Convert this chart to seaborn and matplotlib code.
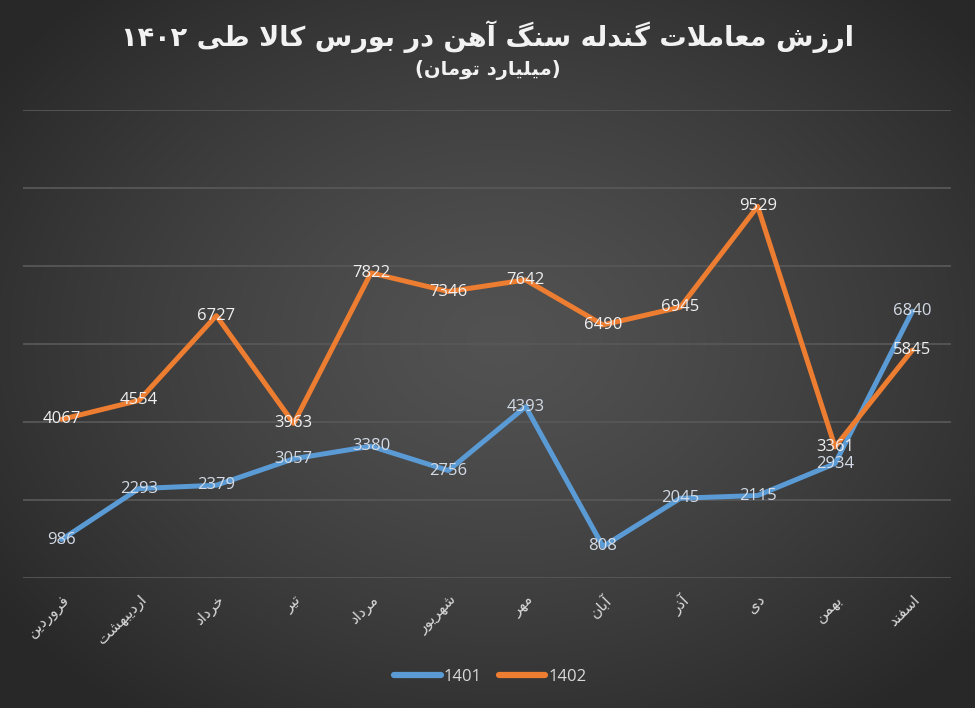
import re
import numpy as np
import pandas as pd
import matplotlib
matplotlib.use('Agg')
import matplotlib.pyplot as plt
import seaborn as sns

MONTHS = ['فروردین', 'اردیبهشت', 'خرداد', 'تیر', 'مرداد', 'شهریور',
          'مهر', 'آبان', 'آذر', 'دی', 'بهمن', 'اسفند']
VALUES_1401 = [986, 2293, 2379, 3057, 3380, 2756, 4393, 808, 2045, 2115, 2934, 6840]
VALUES_1402 = [4067, 4554, 6727, 3963, 7822, 7346, 7642, 6490, 6945, 9529, 3361, 5845]
TITLE = 'ارزش معاملات گندله سنگ آهن در بورس کالا طی ۱۴۰۲'
SUBTITLE = '(میلیارد تومان)'

COLORS = {'1401': '#5B9BD5', '1402': '#ED7D31'}
LABEL_COLORS = {'1401': '#d3dbe6', '1402': '#f0f0f0'}

# matplotlib does no Arabic shaping, so pick presentation forms by hand
# (isolated, final, initial, medial)
FORMS = {
    '\u0622': (0xFE81, 0xFE82, None, None),
    '\u0627': (0xFE8D, 0xFE8E, None, None),
    '\u0628': (0xFE8F, 0xFE90, 0xFE91, 0xFE92),
    '\u067E': (0xFB56, 0xFB57, 0xFB58, 0xFB59),
    '\u062A': (0xFE95, 0xFE96, 0xFE97, 0xFE98),
    '\u062C': (0xFE9D, 0xFE9E, 0xFE9F, 0xFEA0),
    '\u062D': (0xFEA1, 0xFEA2, 0xFEA3, 0xFEA4),
    '\u062E': (0xFEA5, 0xFEA6, 0xFEA7, 0xFEA8),
    '\u062F': (0xFEA9, 0xFEAA, None, None),
    '\u0630': (0xFEAB, 0xFEAC, None, None),
    '\u0631': (0xFEAD, 0xFEAE, None, None),
    '\u0632': (0xFEAF, 0xFEB0, None, None),
    '\u0633': (0xFEB1, 0xFEB2, 0xFEB3, 0xFEB4),
    '\u0634': (0xFEB5, 0xFEB6, 0xFEB7, 0xFEB8),
    '\u0637': (0xFEC1, 0xFEC2, 0xFEC3, 0xFEC4),
    '\u0639': (0xFEC9, 0xFECA, 0xFECB, 0xFECC),
    '\u0641': (0xFED1, 0xFED2, 0xFED3, 0xFED4),
    '\u0642': (0xFED5, 0xFED6, 0xFED7, 0xFED8),
    '\u06A9': (0xFB8E, 0xFB8F, 0xFB90, 0xFB91),
    '\u06AF': (0xFB92, 0xFB93, 0xFB94, 0xFB95),
    '\u0644': (0xFEDD, 0xFEDE, 0xFEDF, 0xFEE0),
    '\u0645': (0xFEE1, 0xFEE2, 0xFEE3, 0xFEE4),
    '\u0646': (0xFEE5, 0xFEE6, 0xFEE7, 0xFEE8),
    '\u0647': (0xFEE9, 0xFEEA, 0xFEEB, 0xFEEC),
    '\u0648': (0xFEED, 0xFEEE, None, None),
    '\u06CC': (0xFBFC, 0xFBFD, 0xFBFE, 0xFBFF),
}
LAM_ALEF = {'\u0627': (0xFEFB, 0xFEFC), '\u0622': (0xFEF5, 0xFEF6)}


def shape(text):
    tokens = []
    i = 0
    while i < len(text):
        if text[i] == '\u0644' and i + 1 < len(text) and text[i + 1] in LAM_ALEF:
            tokens.append(('LA', text[i + 1]))
            i += 2
        else:
            tokens.append(('C', text[i]))
            i += 1

    def joins_fwd(tok):
        return tok[0] == 'C' and tok[1] in FORMS and FORMS[tok[1]][2] is not None

    def is_arabic(tok):
        return tok[0] == 'LA' or tok[1] in FORMS

    out = []
    for k, tok in enumerate(tokens):
        prev_ok = k > 0 and joins_fwd(tokens[k - 1])
        next_ok = k + 1 < len(tokens) and is_arabic(tokens[k + 1])
        if tok[0] == 'LA':
            out.append(chr(LAM_ALEF[tok[1]][1 if prev_ok else 0]))
            continue
        c = tok[1]
        if c not in FORMS:
            out.append(c)
            continue
        iso, fin, ini, med = FORMS[c]
        fwd = ini is not None and next_ok
        if prev_ok and fwd:
            out.append(chr(med))
        elif prev_ok:
            out.append(chr(fin))
        elif fwd:
            out.append(chr(ini))
        else:
            out.append(chr(iso))
    return ''.join(out)


def rtl(text):
    s = shape(text)[::-1].translate(str.maketrans('()', ')('))
    return re.sub(r'[0-9\u06F0-\u06F9]+', lambda m: m.group(0)[::-1], s)


df = pd.DataFrame({
    'idx': list(range(len(MONTHS))) * 2,
    'value': VALUES_1401 + VALUES_1402,
    'year': ['1401'] * len(MONTHS) + ['1402'] * len(MONTHS),
})

plt.rcParams['font.family'] = ['Open Sans', 'DejaVu Sans']

fig = plt.figure(figsize=(9.75, 7.08), dpi=100)

# radial dark-grey background
bg = fig.add_axes([0, 0, 1, 1], zorder=-1)
yy, xx = np.mgrid[0:708, 0:975]
r = np.sqrt(((xx - 500) / 620.0) ** 2 + ((yy - 340) / 470.0) ** 2)
t = np.clip(r, 0, 1) ** 1.3
center = np.array([0x52, 0x52, 0x52]) / 255.0
edge = np.array([0x28, 0x28, 0x28]) / 255.0
img = center[None, None, :] * (1 - t[..., None]) + edge[None, None, :] * t[..., None]
bg.imshow(img, aspect='auto', extent=[0, 1, 0, 1])
bg.axis('off')

ax = fig.add_axes([23 / 975, 1 - 578 / 708, 928 / 975, 468 / 708])
ax.set_facecolor('none')

sns.lineplot(data=df, x='idx', y='value', hue='year', palette=COLORS,
             linewidth=3.6, ax=ax, legend=False, zorder=3,
             solid_joinstyle='round', solid_capstyle='round')

for year, vals in (('1401', VALUES_1401), ('1402', VALUES_1402)):
    for i, v in enumerate(vals):
        ax.text(i, v, str(v), ha='center', va='center', fontsize=12,
                color=LABEL_COLORS[year], zorder=4)

ax.set_xlim(-0.5, len(MONTHS) - 0.5)
ax.set_ylim(0, 12000)
ax.set_yticks(np.arange(0, 12001, 2000))
ax.set_yticklabels([])
ax.grid(axis='y', color='#575757', linewidth=1.3, zorder=0)
ax.grid(axis='x', visible=False)
ax.set_axisbelow(True)
ax.tick_params(axis='both', length=0)
for sp in ax.spines.values():
    sp.set_visible(False)

ax.set_xticks(range(len(MONTHS)))
ax.set_xticklabels([rtl(m) for m in MONTHS], rotation=45, ha='right',
                   va='top', rotation_mode='anchor', fontsize=11,
                   color='#d9d9d9', family=['DejaVu Sans'])
ax.tick_params(axis='x', pad=10)
ax.set_xlabel('')
ax.set_ylabel('')

handles = [plt.Line2D([], [], color=COLORS[y], linewidth=4.5,
                      solid_capstyle='round') for y in COLORS]
fig.legend(handles, list(COLORS), loc='center', bbox_to_anchor=(0.503, 0.044),
           ncol=2, frameon=False, fontsize=12, labelcolor='#d9d9d9',
           handlelength=2.8, handletextpad=0.2, columnspacing=1.0)

fig.text(0.5, 1 - 37 / 708, rtl(TITLE), ha='center', va='center',
         fontsize=19.5, fontweight='bold', color='#f2f2f2', family=['DejaVu Sans'])
fig.text(0.5, 1 - 70 / 708, rtl(SUBTITLE), ha='center', va='center',
         fontsize=14, fontweight='bold', color='#f2f2f2', family=['DejaVu Sans'])

fig.savefig('out.png', dpi=100)
